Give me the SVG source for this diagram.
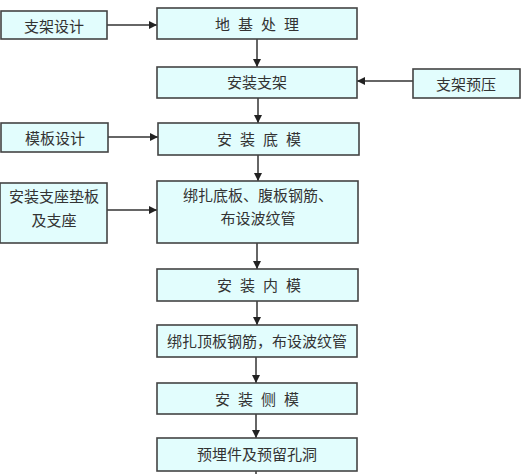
<svg xmlns="http://www.w3.org/2000/svg" width="523" height="474" viewBox="0 0 523 474">
<defs>
<marker id="ah" viewBox="0 0 10 10" refX="10" refY="5" markerWidth="8" markerHeight="8" markerUnits="userSpaceOnUse" orient="auto">
<path d="M0,0 L10,5 L0,10 Z" fill="#222"/>
</marker>
<style>
.box{fill:#e2fdfd;stroke:#444;stroke-width:1.6}
.t{font-family:"Noto Sans CJK SC","Noto Sans CJK JP",sans-serif;font-size:15px;fill:#333;text-anchor:middle;dominant-baseline:central}
.sp{letter-spacing:8px}
.c{stroke:#333;stroke-width:1.5;fill:none}
</style>
</defs>
<rect width="523" height="474" fill="#fff"/>
<g id="connectors">
<line class="c" x1="107" y1="25" x2="157" y2="25" marker-end="url(#ah)" stroke-width="1.2"/>
<line class="c" x1="257" y1="39" x2="257" y2="67" marker-end="url(#ah)"/>
<line class="c" x1="413" y1="81" x2="357" y2="81" marker-end="url(#ah)" stroke-width="1.2"/>
<line class="c" x1="258" y1="98" x2="258" y2="123" marker-end="url(#ah)"/>
<line class="c" x1="108" y1="137" x2="158" y2="137" marker-end="url(#ah)" stroke-width="1.2"/>
<line class="c" x1="258" y1="155" x2="258" y2="181" marker-end="url(#ah)"/>
<line class="c" x1="107" y1="210" x2="157" y2="210" marker-end="url(#ah)" stroke-width="1.2"/>
<line class="c" x1="257" y1="243" x2="257" y2="269" marker-end="url(#ah)"/>
<line class="c" x1="257" y1="301" x2="257" y2="325" marker-end="url(#ah)"/>
<line class="c" x1="256" y1="357" x2="256" y2="383" marker-end="url(#ah)"/>
<line class="c" x1="256" y1="414" x2="256" y2="438" marker-end="url(#ah)"/>
<line class="c" x1="256" y1="471" x2="256" y2="474"/>
</g>
<g id="n_zhijia_sheji"><rect class="box" x="1" y="11" width="106" height="28"/><text class="t" x="54" y="25">支架设计</text></g>
<g id="n_diji"><rect class="box" x="157" y="8" width="200" height="31"/><text class="t sp" x="261" y="23">地基处理</text></g>
<g id="n_anzhuang_zhijia"><rect class="box" x="157" y="67" width="200" height="31"/><text class="t" x="257" y="81">安装支架</text></g>
<g id="n_yuya"><rect class="box" x="413" y="69" width="107" height="29"/><text class="t" x="466" y="83">支架预压</text></g>
<g id="n_muban_sheji"><rect class="box" x="1" y="123" width="107" height="29"/><text class="t" x="55" y="137">模板设计</text></g>
<g id="n_dimo"><rect class="box" x="158" y="123" width="201" height="32"/><text class="t sp" x="263" y="138">安装底模</text></g>
<g id="n_zhizuo"><rect class="box" x="0" y="183" width="107" height="60"/><text class="t" x="54" y="195">安装支座垫板</text><text class="t" x="54" y="219">及支座</text></g>
<g id="n_bangza_di"><rect class="box" x="157" y="181" width="201" height="62"/><text class="t" x="258" y="194">绑扎底板、腹板钢筋、</text><text class="t" x="258" y="217">布设波纹管</text></g>
<g id="n_neimo"><rect class="box" x="157" y="269" width="201" height="32"/><text class="t sp" x="263" y="284">安装内模</text></g>
<g id="n_bangza_ding"><rect class="box" x="157" y="325" width="200" height="32"/><text class="t" x="257" y="340">绑扎顶板钢筋，布设波纹管</text></g>
<g id="n_cemo"><rect class="box" x="157" y="383" width="200" height="31"/><text class="t sp" x="261" y="398">安装侧模</text></g>
<g id="n_yumai"><rect class="box" x="157" y="438" width="200" height="33"/><text class="t" x="257" y="453">预埋件及预留孔洞</text></g>
</svg>
